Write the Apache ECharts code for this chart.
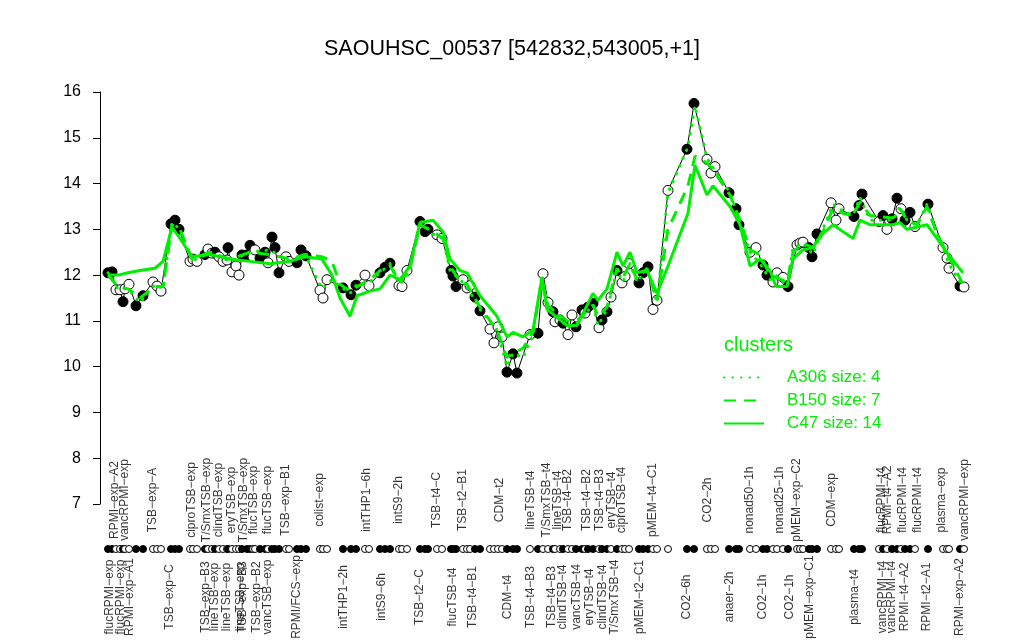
<!DOCTYPE html>
<html><head><meta charset="utf-8">
<script src="https://cdn.jsdelivr.net/npm/echarts@6/dist/echarts.min.js"></script>
<style>html,body{margin:0;padding:0;background:#fff}#c{width:1024px;height:640px}</style>
</head><body><div id="c"></div>
<script>
// positions along the probe (arbitrary units), expression values, filled flag
const pointPos = [0.8,1.2,1.6,2.0,2.3,2.5,2.9,3.6,4.3,5.3,5.7,6.1,7.1,7.5,7.9,9.0,9.3,9.7,10.5,10.8,11.2,11.5,11.9,12.3,12.7,12.8,13.2,13.6,13.9,14.2,14.7,15.0,15.3,15.5,16.0,16.5,16.8,17.2,17.5,17.9,18.6,18.9,19.7,20.1,20.6,22.0,22.3,22.7,24.3,25.1,25.6,26.5,26.9,28.0,28.5,29.0,29.9,30.2,30.7,32.0,32.5,32.8,33.7,34.2,35.1,35.3,35.6,36.3,36.7,37.0,37.5,38.0,39.0,39.4,39.8,40.2,40.7,41.3,41.7,43.0,43.8,44.3,44.8,45.3,45.5,46.0,46.3,46.8,47.2,47.6,48.2,48.5,48.8,49.3,49.9,50.2,50.7,51.1,51.7,52.2,52.5,52.9,53.9,54.3,54.8,55.3,55.7,56.8,58.7,59.4,60.7,61.1,61.5,62.9,63.6,63.9,65.0,65.6,66.3,66.7,67.3,67.7,68.3,68.8,69.7,70.0,70.3,70.9,71.2,71.7,73.1,73.6,73.9,75.4,75.9,76.2,77.9,78.3,78.7,79.2,79.7,80.1,80.5,81.0,81.5,82.8,84.3,84.7,84.9,86.0,86.4];
const pointVal = [12.05,12.07,11.68,11.68,11.42,11.7,11.8,11.33,11.55,11.85,11.76,11.65,13.12,13.2,13.0,12.3,12.35,12.3,12.45,12.57,12.48,12.5,12.4,12.3,12.33,12.6,12.07,12.2,12.0,12.44,12.44,12.65,12.4,12.55,12.37,12.5,12.27,12.83,12.6,12.05,12.4,12.3,12.27,12.55,12.42,11.67,11.5,11.9,11.72,11.57,11.78,12.0,11.77,12.05,12.17,12.26,11.77,11.75,12.1,13.17,12.95,13.0,12.88,12.8,12.1,11.98,11.75,11.9,11.72,11.77,11.52,11.22,10.82,10.52,10.87,10.65,9.88,10.28,9.86,10.7,10.73,12.03,11.4,11.2,10.98,11.02,10.95,10.7,11.13,10.87,11.24,11.17,11.3,11.38,10.85,11.02,11.2,11.52,12.1,11.83,11.97,12.25,11.83,12.05,12.18,11.25,11.45,13.85,14.75,15.75,14.53,14.23,14.37,13.8,13.45,13.1,12.5,12.6,12.22,12.0,11.85,12.05,11.95,11.75,12.66,12.7,12.72,12.6,12.4,12.9,13.58,13.2,13.45,13.28,13.52,13.77,13.17,13.3,13.0,13.23,13.68,13.45,13.2,13.37,13.06,13.55,12.6,12.37,12.15,11.76,11.74];
const pointFilled = [1,1,0,0,1,0,0,1,1,0,0,0,1,1,1,0,0,0,1,0,0,1,0,0,0,1,0,0,0,1,1,1,0,0,1,1,0,1,1,1,0,0,1,1,1,0,0,0,1,1,1,0,0,1,1,1,0,0,0,1,1,1,0,0,1,1,1,0,0,0,1,1,0,0,0,0,1,1,1,0,1,0,0,1,0,0,1,0,0,1,1,0,1,1,0,1,1,0,1,0,0,0,1,1,1,0,0,0,1,1,0,0,0,1,1,1,0,0,1,1,0,0,0,1,0,0,0,1,1,1,0,0,0,1,1,1,0,1,0,1,1,0,1,1,0,1,0,0,0,1,0];

// cluster profile lines
const clusterPos = [0.8,1.8,2.8,4.0,5.5,6.3,7.2,8.0,9.2,11.0,13.0,15.0,17.0,19.0,20.5,22.2,23.2,24.0,25.0,25.7,27.0,28.0,29.0,30.0,31.0,32.0,33.3,34.3,35.0,36.0,36.7,38.0,39.7,40.7,41.3,42.3,43.3,44.2,44.7,46.7,47.7,49.3,49.8,50.7,51.7,52.3,53.0,53.7,54.7,55.7,56.8,58.8,59.5,60.7,61.3,63.0,64.0,65.0,66.0,67.0,67.6,68.7,69.3,70.3,71.3,72.0,73.3,74.3,75.3,76.0,77.0,79.3,80.0,80.7,81.7,82.7,83.7,85.0,86.3];
const clusterA306 = [12.05,11.7,11.7,11.4,11.8,11.7,13.15,13.0,12.3,12.5,12.3,12.5,12.55,12.3,12.45,11.7,11.9,11.75,11.6,11.8,11.85,12.05,12.25,11.8,12.1,13.2,12.9,12.8,12.1,11.9,11.75,11.25,10.8,10.0,10.3,10.2,10.7,12.0,11.4,10.85,10.95,11.35,10.9,11.25,12.1,11.85,12.25,11.85,12.15,11.4,13.8,14.8,15.7,14.55,14.35,13.8,13.15,12.5,12.25,11.9,12.0,11.75,12.6,12.7,12.45,12.85,13.55,13.4,13.3,13.7,13.2,13.2,13.5,13.2,13.1,13.55,12.9,12.2,11.75];
const clusterB150 = [12.0,11.75,11.7,11.5,11.75,11.75,13.1,13.0,12.35,12.5,12.35,12.5,12.45,12.35,12.45,12.4,12.3,11.8,11.65,11.75,11.9,12.1,12.2,11.85,12.15,13.1,12.95,12.8,12.2,11.85,11.8,11.3,10.8,10.2,10.3,10.4,10.75,11.9,11.35,11.0,11.0,11.35,11.1,11.3,12.15,11.95,12.25,11.9,12.15,11.45,13.0,13.95,14.6,14.45,14.3,13.75,13.2,12.55,12.45,12.0,11.95,11.85,12.5,12.7,12.6,12.8,13.45,13.35,13.3,13.6,13.3,13.25,13.45,13.2,13.1,13.5,12.9,12.35,11.8];
const clusterC47 = [12.0,12.0,12.05,12.1,12.15,12.3,13.05,12.8,12.4,12.45,12.35,12.3,12.25,12.3,12.4,12.35,12.0,11.5,11.1,11.55,11.65,11.7,12.0,11.9,12.2,13.15,13.2,12.95,12.35,12.1,12.05,11.55,11.1,10.65,10.75,10.65,10.8,11.95,11.25,10.9,10.9,11.6,11.45,11.7,12.5,12.2,12.5,12.05,12.1,11.6,12.2,13.35,14.4,13.75,13.95,13.5,13.1,12.2,12.35,12.1,11.75,11.75,12.35,12.55,12.6,12.85,13.1,12.95,12.8,13.2,13.1,13.1,13.15,13.0,13.05,13.1,12.8,12.4,12.05];

// sample names written above / below the rug
const topLabelPos = [1.5,2.5,5.3,9.2,10.7,11.9,13.2,14.4,15.4,16.8,18.6,22.0,26.7,29.9,33.7,36.3,40.0,43.1,44.7,45.8,46.8,48.7,50.0,51.2,52.2,55.3,60.8,65.0,68.0,69.7,73.2,78.2,78.8,80.3,81.8,84.2,86.5];
const topLabelText = ['RPMI\u2212exp\u2212A2','vancRPMI\u2212exp','TSB\u2212exp\u2212A','ciproTSB\u2212exp','T/SmxTSB\u2212exp','clindTSB\u2212exp','eryTSB\u2212exp','T/SmxTSB\u2212exp','flucTSB\u2212exp','flucTSB\u2212exp','TSB\u2212exp\u2212B1','colist\u2212exp','intTHP1\u22126h','intS9\u22122h','TSB\u2212t4\u2212C','TSB\u2212t2\u2212B1','CDM\u2212t2','lineTSB\u2212t4','T/SmxTSB\u2212t4','lineTSB\u2212t4','TSB\u2212t4\u2212B2','TSB\u2212t4\u2212B2','TSB\u2212t4\u2212B3','eryTSB\u2212t4','ciproTSB\u2212t4','pMEM\u2212t4\u2212C1','CO2\u22122h','nonad50\u22121h','nonad25\u22121h','pMEM\u2212exp\u2212C2','CDM\u2212exp','flucRPMI\u2212t4','RPMI\u2212t4\u2212A2','flucRPMI\u2212t4','flucRPMI\u2212t4','plasma\u2212exp','vancRPMI\u2212exp'];
const bottomLabelPos = [1.0,2.1,3.0,7.0,10.6,11.5,12.7,14.1,14.3,15.7,16.8,19.7,24.4,28.2,32.0,35.3,37.3,40.8,43.1,45.2,46.3,47.7,49.0,50.3,51.5,54.0,58.7,63.0,66.3,69.0,71.0,75.5,78.3,79.2,80.5,82.7,86.0];
const bottomLabelText = ['flucRPMI\u2212exp','flucRPMI\u2212exp','RPMI\u2212exp\u2212A1','TSB\u2212exp\u2212C','TSB\u2212exp\u2212B3','lineTSB\u2212exp','lineTSB\u2212exp','lineTSB\u2212exp','TSB\u2212exp\u2212B3','TSB\u2212exp\u2212B2','vancTSB\u2212exp','RPMI/FCS\u2212exp','intTHP1\u22122h','intS9\u22126h','TSB\u2212t2\u2212C','flucTSB\u2212t4','TSB\u2212t4\u2212B1','CDM\u2212t4','TSB\u2212t4\u2212B3','TSB\u2212t4\u2212B3','clindTSB\u2212t4','vancTSB\u2212t4','eryTSB\u2212t4','clindTSB\u2212t4','T/SmxTSB\u2212t4','pMEM\u2212t2\u2212C1','CO2\u22126h','anaer\u22122h','CO2\u22121h','CO2\u22121h','pMEM\u2212exp\u2212C1','plasma\u2212t4','vancRPMI\u2212t4','vancRPMI\u2212t4','RPMI\u2212t4\u2212A2','RPMI\u2212t2\u2212A1','RPMI\u2212exp\u2212A2'];

const clusterNames = ['A306 size: 4','B150 size: 7','C47 size: 14'];

const FONT = '"Liberation Sans", Arial, Helvetica, sans-serif';
const GREEN = '#00ee00';
const XMAX = 87.5;

const chart = echarts.init(document.getElementById('c'), null, {renderer: 'canvas'});
const zip = (a, b) => a.map((x, i) => [x, b[i]]);
const pts = pointPos.map((x, i) => ({value: [x, pointVal[i]], itemStyle: {color: pointFilled[i] ? '#000' : '#fff'}}));
const rug = pointPos.map((x, i) => ({value: [x, 0.5], itemStyle: {color: pointFilled[i] ? '#000' : '#fff'}}));
const labelData = (pos, txt) => pos.map((x, i) => ({value: [x, 0.5], name: txt[i]}));
// rotated labels: offset is expressed in the rotated frame (local x points up)
const labelSeries = (pos, txt, up) => ({
  type: 'scatter', xAxisIndex: 1, yAxisIndex: 1, data: labelData(pos, txt),
  symbolSize: 0.1, itemStyle: {color: 'rgba(0,0,0,0)'}, silent: true,
  label: {show: true, formatter: '{b}', position: 'inside', offset: [up, 0], rotate: 90,
    align: 'center', verticalAlign: 'middle', fontFamily: FONT, fontSize: 12, color: '#000'}
});
const clusterLine = (name, data, type, cap) => ({
  name: name, type: 'line', data: data, symbol: 'none', showSymbol: false, z: 5,
  lineStyle: {color: GREEN, width: 3, type: type, cap: cap}, itemStyle: {color: GREEN}
});

chart.setOption({
  animation: false,
  backgroundColor: '#fff',
  title: [
    {text: 'SAOUHSC_00537 [542832,543005,+1]', left: 'center', top: 33,
     textStyle: {fontFamily: FONT, fontSize: 21.5, fontWeight: 'normal', color: '#000'}},
    {text: 'clusters', left: 719, top: 330,
     textStyle: {fontFamily: FONT, fontSize: 20, fontWeight: 'normal', color: GREEN}}
  ],
  grid: [
    {left: 100, right: 49, top: 92, bottom: 136},
    {left: 100, right: 49, top: 544, height: 10}
  ],
  xAxis: [
    {type: 'value', gridIndex: 0, min: 0, max: XMAX, show: false},
    {type: 'value', gridIndex: 1, min: 0, max: XMAX, show: false}
  ],
  yAxis: [
    {type: 'value', gridIndex: 0, min: 7, max: 16, interval: 1, offset: 10,
     axisLine: {show: true, lineStyle: {color: '#000'}},
     axisTick: {show: true, length: 7, lineStyle: {color: '#000'}},
     axisLabel: {fontFamily: FONT, fontSize: 16, color: '#000', margin: 9},
     splitLine: {show: false}},
    {type: 'value', gridIndex: 1, min: 0, max: 1, show: false}
  ],
  legend: {
    left: 718, top: 364, orient: 'vertical', itemWidth: 40, itemHeight: 14, itemGap: 6,
    itemStyle: {opacity: 0},
    textStyle: {fontFamily: FONT, fontSize: 17, color: GREEN, padding: [0, 0, 0, 18]},
    data: clusterNames
  },
  series: [
    {type: 'line', data: zip(pointPos, pointVal), symbol: 'none', z: 2,
     lineStyle: {color: '#000', width: 1}},
    {type: 'scatter', data: pts, symbolSize: 10, z: 3,
     itemStyle: {borderColor: '#000', borderWidth: 1, opacity: 1}},
    clusterLine(clusterNames[0], zip(clusterPos, clusterA306), [0.5, 8], 'round'),
    clusterLine(clusterNames[1], zip(clusterPos, clusterB150), [12, 8], 'butt'),
    clusterLine(clusterNames[2], zip(clusterPos, clusterC47), 'solid', 'butt'),
    {type: 'scatter', xAxisIndex: 1, yAxisIndex: 1, data: rug, symbolSize: 7,
     itemStyle: {borderColor: '#000', borderWidth: 1, opacity: 1}},
    labelSeries(topLabelPos, topLabelText, 49),
    labelSeries(bottomLabelPos, bottomLabelText, -48)
  ]
});
</script>
</body></html>
